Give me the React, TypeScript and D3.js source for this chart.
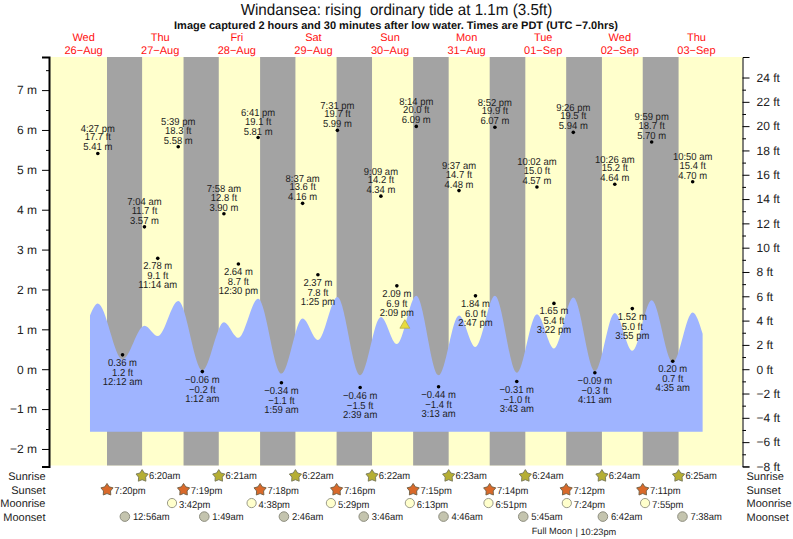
import { useRef, useEffect } from 'react';
import * as d3 from 'd3';

const WIDTH = 793;
const HEIGHT = 539;
const FONT = '"Liberation Sans", Arial, sans-serif';

// High and low water, alternating, first one is a high
const tideTimes = [
  '2020-08-26 16:27', '2020-08-27 00:12', '2020-08-27 07:04', '2020-08-27 11:14', '2020-08-27 17:39',
  '2020-08-28 01:12', '2020-08-28 07:58', '2020-08-28 12:30', '2020-08-28 18:41',
  '2020-08-29 01:59', '2020-08-29 08:37', '2020-08-29 13:25', '2020-08-29 19:31',
  '2020-08-30 02:39', '2020-08-30 09:09', '2020-08-30 14:09', '2020-08-30 20:14',
  '2020-08-31 03:13', '2020-08-31 09:37', '2020-08-31 14:47', '2020-08-31 20:52',
  '2020-09-01 03:43', '2020-09-01 10:02', '2020-09-01 15:22', '2020-09-01 21:26',
  '2020-09-02 04:11', '2020-09-02 10:26', '2020-09-02 15:55', '2020-09-02 21:59',
  '2020-09-03 04:35', '2020-09-03 10:50',
];
const tideMetres = [
  5.41, 0.36, 3.57, 2.78, 5.58,
  -0.06, 3.9, 2.64, 5.81,
  -0.34, 4.16, 2.37, 5.99,
  -0.46, 4.34, 2.09, 6.09,
  -0.44, 4.48, 1.84, 6.07,
  -0.31, 4.57, 1.65, 5.94,
  -0.09, 4.64, 1.52, 5.7,
  0.2, 4.7,
];
const tideFeet = [
  17.7, 1.2, 11.7, 9.1, 18.3,
  -0.2, 12.8, 8.7, 19.1,
  -1.1, 13.6, 7.8, 19.7,
  -1.5, 14.2, 6.9, 20.0,
  -1.4, 14.7, 6.0, 19.9,
  -1.0, 15.0, 5.4, 19.5,
  -0.3, 15.2, 5.0, 18.7,
  0.7, 15.4,
];

// The filled curve sits much lower than the labelled heights, read separately
const curveLevels = [
  1.65, 0.25, 1.09, 0.83, 1.71,
  -0.03, 1.18, 0.79, 1.77,
  -0.11, 1.27, 0.73, 1.81,
  -0.15, 1.31, 0.63, 1.84,
  -0.15, 1.35, 0.56, 1.84,
  -0.09, 1.38, 0.52, 1.8,
  -0.05, 1.41, 0.46, 1.73,
  0.17, 1.42,
];
const curveStart = { time: '2020-08-26 14:00', level: 1.35 };
const curveEnd = { time: '2020-09-03 13:57', level: 0.89 };
const curveFloor = -1.57;

const dayNoons = [
  '2020-08-26 12:00', '2020-08-27 12:00', '2020-08-28 12:00', '2020-08-29 12:00', '2020-08-30 12:00',
  '2020-08-31 12:00', '2020-09-01 12:00', '2020-09-02 12:00', '2020-09-03 12:00',
];

const sunrises = [
  '2020-08-27 06:20', '2020-08-28 06:21', '2020-08-29 06:22', '2020-08-30 06:22',
  '2020-08-31 06:23', '2020-09-01 06:24', '2020-09-02 06:24', '2020-09-03 06:25',
];
const sunsets = [
  '2020-08-26 19:20', '2020-08-27 19:19', '2020-08-28 19:18', '2020-08-29 19:16',
  '2020-08-30 19:15', '2020-08-31 19:14', '2020-09-01 19:12', '2020-09-02 19:11',
];
const moonrises = [
  '2020-08-27 15:42', '2020-08-28 16:38', '2020-08-29 17:29', '2020-08-30 18:13',
  '2020-08-31 18:51', '2020-09-01 19:24', '2020-09-02 19:55',
];
const moonsets = [
  '2020-08-27 00:56', '2020-08-28 01:49', '2020-08-29 02:46', '2020-08-30 03:46',
  '2020-08-31 04:46', '2020-09-01 05:45', '2020-09-02 06:42', '2020-09-03 07:38',
];

const nowMark = { time: '2020-08-30 16:39', level: 1.1 };

const parse = d3.utcParse('%Y-%m-%d %H:%M');
const fmtHour = d3.utcFormat('%-I:%M');
const fmtAmPm = d3.utcFormat('%p');
const minus = (s: string) => s.replace('-', '\u2212');

export default function App() {
  const svgRef = useRef<SVGSVGElement>(null);

  useEffect(() => {
    if (!svgRef.current) return;
    const svg = d3.select(svgRef.current);
    svg.selectAll('*').remove();

    const plot = { left: 49, right: 742.5, top: 57, bottom: 465.5 };

    const x = d3.scaleUtc()
      .domain([new Date(Date.UTC(2020, 7, 26)), new Date(Date.UTC(2020, 8, 4))])
      .range([45.3, 734.7]);
    const y = d3.scaleLinear().domain([-2.44, 7.83]).range([466.5, 57]);
    const yFt = d3.scaleLinear().domain([-2.44 * 3.2808, 7.83 * 3.2808]).range([466.5, 57]);

    // the source picture is a little narrower than tall, sx squeezes the glyphs to match
    const text = (px: number, py: number, s: string, size: number, anchor = 'start', fill = '#1c1c1c', weight = 'normal', sx = 1) =>
      svg.append('text')
        .attr('transform', `translate(${px},${py}) scale(${sx},1)`)
        .attr('text-anchor', anchor)
        .attr('font-family', FONT)
        .attr('font-size', size)
        .attr('font-weight', weight)
        .attr('fill', fill)
        .style('white-space', 'pre')
        .style('text-rendering', 'geometricPrecision')
        .text(s);

    // Background, day then night bands
    svg.append('rect')
      .attr('x', plot.left)
      .attr('y', plot.top)
      .attr('width', plot.right - plot.left)
      .attr('height', plot.bottom - plot.top)
      .attr('fill', '#ffffcc');

    svg.selectAll('.night')
      .data(sunsets)
      .join('rect')
      .attr('x', d => x(parse(d)!))
      .attr('y', plot.top)
      .attr('width', (d, i) => x(parse(sunrises[i])!) - x(parse(d)!))
      .attr('height', plot.bottom - plot.top)
      .attr('fill', '#a3a3a3');

    // Tide curve
    const curvePts: [Date, number][] = [
      [parse(curveStart.time)!, curveStart.level],
      ...tideTimes.map((t, i) => [parse(t)!, curveLevels[i]] as [Date, number]),
      [parse(curveEnd.time)!, curveEnd.level],
    ];
    const area = d3.area<[Date, number]>()
      .x(d => x(d[0]))
      .y0(y(curveFloor))
      .y1(d => y(d[1]))
      .curve(d3.curveMonotoneX);
    svg.append('path').attr('d', area(curvePts)).attr('fill', '#9fb4ff');

    // Axes
    const left = svg.append('g')
      .attr('transform', `translate(${plot.left},0)`)
      .call(d3.axisLeft(y).tickValues(d3.range(-2, 8)).tickSize(7).tickPadding(5).tickFormat(d => `${minus(String(d))} m`));
    left.selectAll('.tick text').attr('font-size', 12).attr('font-family', FONT).attr('fill', '#222').style('text-rendering', 'geometricPrecision');
    left.select('.domain').attr('stroke-width', 2).attr('stroke', '#000');
    svg.append('g')
      .attr('transform', `translate(${plot.left},0)`)
      .call(d3.axisLeft(y).tickValues(d3.range(-2.5, 8, 1).filter(v => v > -2.44)).tickSize(3).tickFormat(() => ''))
      .select('.domain').remove();

    const right = svg.append('g')
      .attr('transform', `translate(${plot.right},0)`)
      .call(d3.axisRight(yFt).tickValues(d3.range(-8, 26, 2)).tickSize(7).tickPadding(7).tickFormat(d => `${minus(String(d))} ft`));
    right.selectAll('.tick text').attr('font-size', 12).attr('font-family', FONT).attr('fill', '#222').style('text-rendering', 'geometricPrecision');
    right.select('.domain').attr('stroke', '#000');
    svg.append('g')
      .attr('transform', `translate(${plot.right},0)`)
      .call(d3.axisRight(yFt).tickValues(d3.range(-7, 25, 2)).tickSize(3.5).tickFormat(() => ''))
      .select('.domain').remove();

    // Titles
    text(396.5, 14.5, 'Windansea: rising  ordinary tide at 1.1m (3.5ft)', 16, 'middle', '#111', 'normal', 0.95);
    text(396, 28.5, `Image captured 2 hours and 30 minutes after low water. Times are PDT (UTC ${minus('-')}7.0hrs)`, 11, 'middle', '#111', 'bold');

    dayNoons.forEach(d => {
      const t = parse(d)!;
      text(x(t), 41, d3.utcFormat('%a')(t), 11, 'middle', '#ff1010');
      text(x(t), 54, minus(d3.utcFormat('%d-%b')(t)), 11, 'middle', '#ff1010');
    });

    // High and low water dots with their three-line labels
    tideTimes.forEach((t, i) => {
      const date = parse(t)!;
      const px = x(date);
      const py = y(tideMetres[i]);
      svg.append('circle').attr('cx', px).attr('cy', py).attr('r', 1.8).attr('fill', '#000');
      const when = `${fmtHour(date)} ${fmtAmPm(date).toLowerCase()}`;
      const m = `${minus(tideMetres[i].toFixed(2))} m`;
      const ft = `${minus(tideFeet[i].toFixed(1))} ft`;
      const put = (dy: number, s: string) => text(px, py + dy, s, 10.2, 'middle', '#1c1c1c', 'normal', 0.93);
      if (i % 2 === 0) {
        put(-21.5, when);
        put(-13, ft);
        put(-3, m);
      } else {
        put(11, m);
        put(21, ft);
        put(30, when);
      }
    });

    // Current level marker
    svg.append('path')
      .attr('d', d3.symbol(d3.symbolTriangle, 42)())
      .attr('transform', `translate(${x(parse(nowMark.time)!)},${y(nowMark.level)})`)
      .attr('fill', '#e8dc3c')
      .attr('stroke', '#b5ab4a')
      .attr('stroke-width', 0.8);

    // Sun and moon rows
    const rows = ['Sunrise', 'Sunset', 'Moonrise', 'Moonset'];
    const rowY = d3.scalePoint<string>().domain(rows).range([476, 516.6]);
    rows.forEach(r => {
      text(45.5, rowY(r)! + 4, r, 11, 'end', '#222');
      text(746.5, rowY(r)! + 4, r, 11, 'start', '#222');
    });

    const starPath = d3.lineRadial<number>()
      .angle((_, i) => (i * Math.PI) / 5)
      .radius(d => d)
      .curve(d3.curveLinearClosed);
    const star = starPath([6.4, 3.7, 6.4, 3.7, 6.4, 3.7, 6.4, 3.7, 6.4, 3.7]);
    const clock = (d: Date) => `${fmtHour(d)}${fmtAmPm(d).toLowerCase()}`;
    const timeLabel = (px: number, py: number, d: Date) => text(px, py, clock(d), 10, 'start', '#1c1c1c', 'normal', 0.94);

    sunrises.forEach(d => {
      const t = parse(d)!;
      svg.append('path').attr('d', star).attr('transform', `translate(${x(t)},${rowY('Sunrise')})`)
        .attr('fill', '#b5ae33').attr('stroke', '#77785a').attr('stroke-width', 0.9);
      timeLabel(x(t) + 6.8, rowY('Sunrise')! + 3.3, t);
    });
    sunsets.forEach(d => {
      const t = parse(d)!;
      svg.append('path').attr('d', star).attr('transform', `translate(${x(t)},${rowY('Sunset')! + 0.3})`)
        .attr('fill', '#d9692a').attr('stroke', '#6e5f44').attr('stroke-width', 0.9);
      timeLabel(x(t) + 7.3, rowY('Sunset')! + 4.3, t);
    });
    moonrises.forEach(d => {
      const t = parse(d)!;
      svg.append('circle').attr('cx', x(t)).attr('cy', rowY('Moonrise')!).attr('r', 4.6)
        .attr('fill', '#ffffcc').attr('stroke', '#9a9a8a');
      timeLabel(x(t) + 7, rowY('Moonrise')! + 4.8, t);
    });
    moonsets.forEach(d => {
      const t = parse(d)!;
      svg.append('circle').attr('cx', x(t)).attr('cy', rowY('Moonset')!).attr('r', 4.8)
        .attr('fill', '#c4c4ae').attr('stroke', '#8e8e80');
      timeLabel(x(t) + 8, rowY('Moonset')! + 3.6, t);
    });

    text(531.7, 533.5, 'Full Moon', 9.2);
    text(575.5, 535, '| 10:23pm', 9.2);
  }, []);

  return (
    <svg
      ref={svgRef}
      width={WIDTH}
      height={HEIGHT}
      style={{ position: 'absolute', left: 0, top: 0, display: 'block', background: '#fff' }}
    />
  );
}
